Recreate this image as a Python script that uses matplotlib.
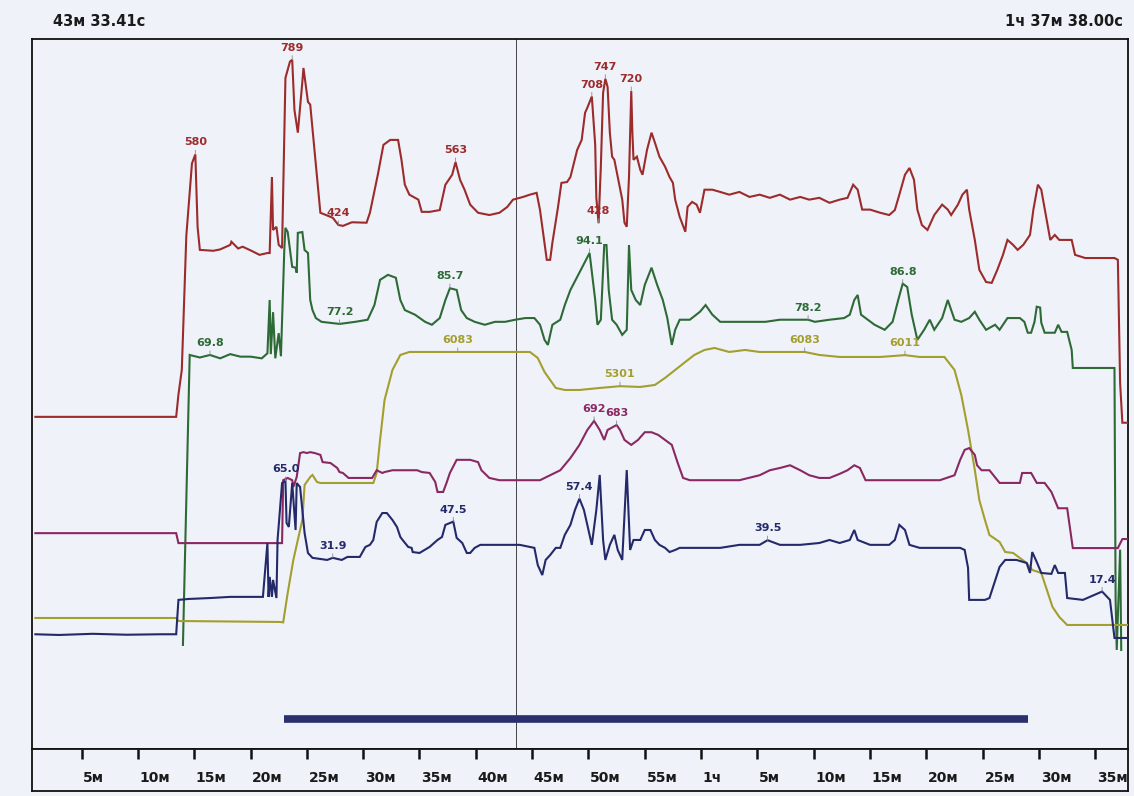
import numpy as np
import matplotlib
matplotlib.use("Agg")
import matplotlib.pyplot as plt

# time axis in minutes from start of the recording
x_range = (0.6, 97.9)
cursor_min = 43 + 33.41 / 60
cursor_text = "43м 33.41с"
total_text = "1ч 37м 38.00с"
segment = (23.0, 89.0)

tick_pos = [5, 10, 15, 20, 25, 30, 35, 40, 45, 50, 55, 60, 65, 70, 75, 80, 85, 90, 95]
tick_lab = ["5м", "10м", "15м", "20м", "25м", "30м", "35м", "40м", "45м", "50м",
            "55м", "1ч", "5м", "10м", "15м", "20м", "25м", "30м", "35м"]

# red channel
red_t = [0.9, 13.4, 13.6, 13.9, 14.3, 14.8, 15.1, 15.3, 15.5, 16.7, 17.3, 18.2, 18.3, 18.9, 19.3,
         20.0, 20.8, 21.5, 21.7, 21.9, 22.0, 22.3, 22.5, 22.8, 23.1, 23.5, 23.7, 23.9, 24.2, 24.6,
         24.7, 25.1, 25.3, 26.2, 27.3, 27.8, 28.2, 29.0, 30.3, 30.6, 31.3, 31.8, 32.4, 33.1, 33.4,
         33.7, 34.1, 34.9, 35.2, 35.9, 36.8, 37.3, 37.9, 38.2, 38.6, 39.0, 39.5, 40.2, 41.2, 42.1,
         42.8, 43.3, 44.2, 44.8, 45.4, 45.7, 45.9, 46.3, 46.6, 46.8, 47.3, 47.6, 48.1, 48.4, 49.0,
         49.4, 49.7, 49.9, 50.3, 50.6, 50.7, 50.9, 51.1, 51.3, 51.5, 51.7, 51.9, 52.1, 52.3, 52.6,
         53.0, 53.2, 53.4, 53.6, 53.8, 53.9, 54.0, 54.3, 54.6, 54.8, 55.2, 55.6, 55.9, 56.3, 56.8,
         57.2, 57.5, 57.7, 58.1, 58.6, 58.8, 59.2, 59.6, 59.9, 60.3, 61.0, 61.7, 62.5, 63.4, 64.3,
         65.2, 66.1, 67.0, 67.9, 68.8, 69.6, 70.5, 71.4, 72.3, 73.0, 73.5, 73.9, 74.3, 75.0, 75.9,
         76.7, 77.2, 77.6, 78.1, 78.5, 78.9, 79.2, 79.6, 80.1, 80.7, 81.4, 81.9, 82.2, 82.8, 83.2,
         83.6, 83.8, 84.3, 84.7, 85.3, 85.8, 86.3, 86.8, 87.2, 87.7, 88.1, 88.6, 89.2, 89.5, 89.9,
         90.2, 90.6, 91.0, 91.4, 91.8, 92.4, 92.9, 93.2, 94.1, 95.4, 96.7, 97.0, 97.2, 97.4, 97.9]
red_v = [0, 0, 49, 104, 400, 560, 580, 420, 369, 367, 370, 380, 387, 372, 376,
         368, 358, 362, 362, 530, 413, 420, 380, 373, 749, 785, 789, 678, 628, 740,
         771, 696, 690, 451, 440, 424, 422, 430, 429, 451, 535, 601, 612, 612, 568,
         513, 491, 480, 453, 453, 457, 513, 535, 563, 524, 502, 469, 451, 446, 451,
         464, 480, 486, 491, 495, 457, 420, 347, 347, 385, 464, 517, 519, 530, 590,
         612, 672, 683, 708, 601, 484, 428, 553, 716, 747, 729, 628, 575, 568, 530,
         480, 429, 420, 530, 720, 628, 568, 575, 546, 535, 590, 628, 606, 575, 553,
         530, 517, 480, 442, 409, 464, 475, 469, 451, 502, 502, 497, 491, 497, 486,
         491, 484, 491, 480, 486, 480, 484, 473, 480, 484, 513, 502, 458, 458, 451,
         446, 457, 491, 535, 550, 524, 458, 424, 413, 446, 469, 458, 446, 469, 491,
         502, 458, 391, 325, 298, 296, 325, 358, 391, 380, 369, 380, 402, 458, 513,
         502, 446, 391, 402, 391, 391, 391, 358, 351, 351, 351, 347, 75, -13, -13]
red_marks = [15.1, 23.7, 27.8, 38.2, 50.3, 51.5, 53.8, 50.9]

# green channel
green_t = [14.0, 14.6, 15.5, 16.4, 17.3, 18.2, 19.1, 20.0, 21.0, 21.5, 21.7, 21.8, 22.0, 22.2, 22.5,
           22.7, 23.0, 23.1, 23.3, 23.7, 24.0, 24.1, 24.2, 24.6, 24.8, 25.1, 25.3, 25.5, 25.8, 26.3,
           27.9, 29.3, 30.4, 31.0, 31.5, 32.2, 32.9, 33.3, 33.7, 34.6, 35.5, 36.1, 36.8, 37.3, 37.7,
           38.3, 38.7, 39.2, 39.9, 40.8, 41.7, 42.6, 43.5, 44.4, 45.2, 45.7, 46.1, 46.4, 46.8, 47.5,
           47.9, 48.4, 49.1, 49.7, 50.1, 50.6, 50.8, 51.1, 51.4, 51.6, 51.8, 52.1, 52.5, 53.0, 53.4,
           53.6, 53.8, 54.2, 54.6, 55.0, 55.6, 56.1, 56.6, 57.0, 57.4, 57.7, 58.1, 59.0, 59.9, 60.4,
           61.0, 61.7, 63.0, 64.3, 65.7, 67.0, 69.5, 70.1, 71.4, 72.7, 73.2, 73.6, 73.9, 74.2, 74.8,
           75.4, 76.3, 77.0, 77.5, 77.9, 78.3, 78.7, 79.2, 79.8, 80.3, 80.7, 81.4, 81.9, 82.5, 83.1,
           83.8, 84.3, 84.7, 85.3, 86.1, 86.5, 86.8, 87.2, 87.8, 88.3, 88.7, 89.0, 89.3, 89.6, 89.8,
           90.1, 90.2, 90.5, 91.4, 91.7, 92.0, 92.5, 92.9, 93.0, 96.7, 96.8, 96.9, 97.2, 97.3]
green_v = [0.7, 69.8, 69.2, 69.8, 69.0, 70.0, 69.4, 69.4, 69.0, 70.2, 82.9, 70.0, 80.0, 69.0, 75.0,
           69.5, 95.0, 100.1, 99.1, 90.8, 90.6, 89.4, 98.9, 99.1, 94.8, 94.1, 82.9, 80.5, 78.6, 77.7,
           77.2, 77.7, 78.2, 81.7, 87.7, 88.9, 88.2, 82.9, 80.5, 79.4, 77.7, 77.0, 78.6, 82.9, 85.7,
           85.3, 80.5, 78.6, 77.7, 77.0, 77.7, 77.7, 78.2, 78.6, 78.6, 77.0, 73.4, 72.2, 77.0, 78.2,
           81.7, 85.3, 88.9, 92.0, 94.1, 82.9, 77.0, 78.2, 96.0, 96.0, 85.3, 78.2, 77.0, 74.6, 75.8,
           96.0, 85.3, 82.9, 81.7, 86.5, 90.6, 86.5, 82.9, 78.6, 72.2, 75.8, 78.2, 78.2, 80.1, 81.7,
           79.4, 77.7, 77.7, 77.7, 77.7, 78.2, 78.2, 77.7, 78.2, 78.6, 79.4, 82.9, 84.1, 79.4, 78.2,
           77.0, 75.8, 77.7, 82.9, 86.8, 86.0, 79.4, 73.4, 75.8, 78.2, 75.8, 78.6, 82.9, 78.2, 77.7,
           78.6, 80.1, 78.2, 75.8, 77.0, 75.8, 77.0, 78.6, 78.6, 78.6, 77.7, 75.1, 75.1, 77.7, 81.3,
           81.1, 77.5, 75.1, 75.1, 77.0, 75.3, 75.3, 71.0, 66.7, 66.7, 11.4, -0.5, 23.4, -0.5]
green_marks = [16.4, 27.9, 37.7, 50.1, 69.5, 77.9]

# olive channel
olive_t = [0.9, 13.4, 13.6, 22.6, 22.9, 23.3, 23.8, 24.2, 24.6, 24.8, 25.3, 25.5, 25.9, 26.2, 28.8,
           30.9, 31.2, 31.5, 31.9, 32.6, 33.3, 34.1, 38.4, 42.1, 44.8, 45.5, 46.1, 46.6, 47.1, 47.9,
           49.2, 51.0, 52.8, 54.6, 55.9, 56.8, 57.7, 58.6, 59.4, 60.3, 61.2, 62.5, 63.9, 65.2, 67.0,
           69.2, 70.5, 72.3, 74.1, 75.9, 78.1, 79.4, 81.6, 82.5, 83.1, 83.7, 84.3, 84.7, 85.2, 85.6,
           86.5, 87.0, 87.7, 88.9, 89.4, 90.2, 90.7, 91.2, 91.8, 92.5, 96.9, 97.9]
olive_v = [0, 0, -69, -91, -100, 572, 1326, 1784, 2241, 3042, 3225, 3270, 3110, 3087, 3087,
           3087, 3316, 4071, 4986, 5672, 6015, 6083, 6083, 6083, 6083, 5946, 5626, 5443, 5260, 5214,
           5214, 5260, 5301, 5283, 5329, 5489, 5672, 5855, 6015, 6129, 6175, 6083, 6129, 6083, 6083,
           6083, 6015, 5969, 5969, 5969, 6011, 5969, 5969, 5672, 5100, 4300, 3385, 2699, 2241, 1898,
           1738, 1509, 1487, 1258, 1098, 1029, 640, 252, 23, -160, -160, -160]
olive_marks = [38.4, 52.8, 69.2, 78.1]

# purple channel
purple_t = [0.9, 13.4, 13.6, 22.8, 22.9, 23.3, 23.7, 23.8, 24.1, 24.4, 24.7, 25.0, 25.3, 25.7, 26.2,
            26.4, 27.1, 27.7, 27.9, 28.2, 28.7, 30.8, 31.2, 31.7, 31.9, 32.6, 34.8, 35.2, 35.9, 36.4,
            36.6, 37.1, 37.4, 37.7, 38.3, 39.5, 40.2, 40.5, 41.2, 42.1, 45.7, 46.6, 47.5, 48.4, 49.2,
            49.9, 50.5, 51.0, 51.4, 51.7, 52.5, 52.8, 53.2, 53.8, 54.4, 55.0, 55.6, 56.2, 56.8, 57.4,
            57.9, 58.4, 59.0, 61.7, 63.4, 65.2, 66.1, 67.0, 67.9, 68.8, 69.6, 70.5, 71.4, 72.3, 73.0,
            73.6, 74.1, 74.6, 77.6, 79.4, 81.2, 82.5, 83.0, 83.4, 83.8, 84.3, 84.5, 84.9, 85.6, 86.5,
            88.3, 88.5, 89.3, 89.8, 90.5, 91.1, 91.7, 92.5, 93.0, 97.0, 97.4, 97.9]
purple_v = [444, 444, 422, 422, 561, 566, 561, 546, 568, 621, 623, 621, 623, 621, 617,
            601, 599, 588, 579, 577, 566, 566, 583, 577, 579, 583, 583, 579, 577, 557,
            535, 535, 555, 577, 606, 606, 601, 583, 566, 561, 561, 572, 583, 610, 639,
            672, 692, 672, 650, 672, 683, 672, 650, 639, 650, 667, 667, 661, 650, 639,
            601, 566, 561, 561, 561, 572, 583, 588, 594, 583, 572, 566, 566, 575, 583,
            594, 588, 561, 561, 561, 561, 572, 606, 628, 632, 617, 594, 583, 583, 555,
            555, 577, 577, 555, 555, 535, 499, 499, 411, 411, 431, 431]
purple_marks = [50.5, 52.5]

# navy channel
navy_t = [0.9, 3.0, 6.0, 9.0, 12.0, 13.4, 13.6, 14.5, 16.4, 18.2, 20.0, 21.1, 21.5, 21.6, 21.7,
          21.9, 22.0, 22.3, 22.4, 22.8, 23.1, 23.2, 23.4, 23.7, 24.0, 24.1, 24.4, 24.6, 24.8, 25.1,
          25.5, 26.8, 27.3, 28.1, 28.6, 29.7, 30.2, 30.6, 30.9, 31.2, 31.7, 32.1, 32.6, 33.0, 33.3,
          33.5, 34.0, 34.3, 34.4, 35.0, 35.9, 36.6, 37.0, 37.3, 38.0, 38.3, 38.8, 39.2, 39.5, 39.9,
          40.4, 42.1, 43.9, 45.2, 45.5, 45.9, 46.2, 46.6, 47.1, 47.5, 47.9, 48.4, 48.8, 49.2, 49.6,
          49.9, 50.3, 50.7, 51.0, 51.3, 51.5, 51.9, 52.3, 52.6, 53.0, 53.4, 53.7, 54.0, 54.6, 55.0,
          55.5, 55.9, 56.3, 56.8, 57.2, 57.7, 58.1, 59.9, 61.7, 63.4, 65.2, 65.9, 67.0, 68.8, 70.5,
          71.4, 72.3, 73.2, 73.6, 73.9, 75.0, 75.9, 76.7, 77.2, 77.6, 78.1, 78.5, 79.4, 81.2, 83.0,
          83.4, 83.7, 83.8, 85.2, 85.6, 86.1, 86.5, 87.0, 88.0, 88.9, 89.2, 89.4, 89.8, 90.2, 91.1,
          91.4, 91.7, 92.3, 92.5, 93.9, 95.6, 96.3, 96.7, 97.9]
navy_v = [-1.0, -1.3, -0.8, -1.2, -1.0, -1.0, 13.8, 14.2, 14.6, 15.1, 15.1, 15.1, 38.3, 15.1, 23.7,
          15.1, 22.4, 14.6, 39.6, 64.1, 65.0, 46.9, 45.2, 64.1, 43.9, 64.1, 62.4, 52.5, 42.6, 34.0,
          31.9, 31.0, 31.9, 31.0, 32.3, 32.3, 36.6, 37.5, 39.6, 47.4, 51.2, 51.2, 48.2, 45.2, 40.9,
          39.6, 36.6, 36.2, 34.4, 34.0, 36.6, 39.6, 40.9, 46.1, 47.5, 40.5, 38.3, 34.0, 34.0, 36.2,
          37.5, 37.5, 37.5, 36.2, 28.8, 24.5, 31.0, 33.1, 36.2, 36.2, 41.8, 46.1, 52.5, 57.4, 52.5,
          46.1, 37.5, 52.5, 67.6, 39.6, 31.0, 37.5, 41.8, 35.3, 31.0, 69.7, 35.3, 39.6, 39.6, 43.9,
          43.9, 39.6, 37.5, 36.2, 34.4, 35.3, 36.2, 36.2, 36.2, 37.5, 37.5, 39.5, 37.5, 37.5, 38.3,
          39.6, 38.3, 39.6, 43.9, 39.6, 37.5, 37.5, 37.5, 39.6, 46.1, 43.9, 37.5, 36.2, 36.2, 36.2,
          35.3, 27.6, 13.8, 13.8, 14.6, 22.0, 28.0, 31.0, 31.0, 29.7, 25.4, 34.4, 30.1, 25.4, 25.0,
          28.8, 25.4, 25.4, 14.6, 13.8, 17.4, 13.8, -2.6, -2.6]
navy_marks = [23.1, 27.3, 38.0, 49.2, 65.9, 95.6]

# each channel: data, marks, colour, vertical range, label format
channels = [
    (red_t, red_v, red_marks, "#9c2b2b", (-734, 835), "{:.0f}"),
    (green_t, green_v, green_marks, "#2e6a36", (-24.1, 145.1), "{:.1f}"),
    (olive_t, olive_v, olive_marks, "#a39f2e", (-2996, 13240), "{:.0f}"),
    (purple_t, purple_v, purple_marks, "#8a2862", (-33, 1536), "{:.0f}"),
    (navy_t, navy_v, navy_marks, "#24296a", (-50.4, 255.3), "{:.1f}"),
]

bg = "#eff2f9"
fig = plt.figure(figsize=(11.34, 7.96), dpi=100, facecolor=bg)
ax = fig.add_axes([32 / 1134, 1 - 749 / 796, 1096 / 1134, 710 / 796], facecolor=bg)
ax.set_xlim(*x_range)
ax.set_ylim(0, 1)
ax.set_xticks([])
ax.set_yticks([])
for s in ax.spines.values():
    s.set_linewidth(1.3)
    s.set_color("#111111")

ax.axvline(cursor_min, color="#444444", lw=0.7, zorder=1)
ax.hlines(0.042, segment[0], segment[1], color="#2a2f6e", lw=5.5, zorder=2)

for t, v, marks, col, ylim, fmt in channels:
    tw = ax.twinx()
    tw.set_ylim(*ylim)
    tw.set_xlim(*x_range)
    tw.axis("off")
    tw.plot(t, v, color=col, lw=1.5, solid_joinstyle="miter")
    for m in marks:
        mv = float(np.interp(m, t, v))
        tw.annotate(fmt.format(mv), (m, mv), xytext=(0, 5), textcoords="offset points",
                    ha="center", va="bottom", fontsize=8, fontweight="bold", color=col,
                    arrowprops=dict(arrowstyle="-", color="#8a8a8a", lw=0.6,
                                    shrinkA=0, shrinkB=0))

# time strip below the plot
axs = fig.add_axes([32 / 1134, 1 - 791 / 796, 1096 / 1134, 42 / 796], facecolor=bg)
axs.set_xlim(*x_range)
axs.set_ylim(0, 1)
axs.set_yticks([])
axs.set_xticks(tick_pos)
axs.tick_params(axis="x", which="major", direction="in", top=True, bottom=False,
                labelbottom=False, length=7, width=1.8, color="#111111")
for s in axs.spines.values():
    s.set_linewidth(1.3)
    s.set_color("#111111")
for p, lab in zip(tick_pos, tick_lab):
    axs.text(p + 0.15, 0.3, lab, ha="left", va="center", fontsize=10,
             fontweight="bold", color="#1a1a1a")

fig.text(53 / 1134, 1 - 22 / 796, cursor_text, ha="left", va="center",
         fontsize=10.5, fontweight="bold", color="#1a1a1a")
fig.text(1123 / 1134, 1 - 22 / 796, total_text, ha="right", va="center",
         fontsize=10.5, fontweight="bold", color="#1a1a1a")

fig.savefig("out.png", dpi=100, facecolor=bg)
